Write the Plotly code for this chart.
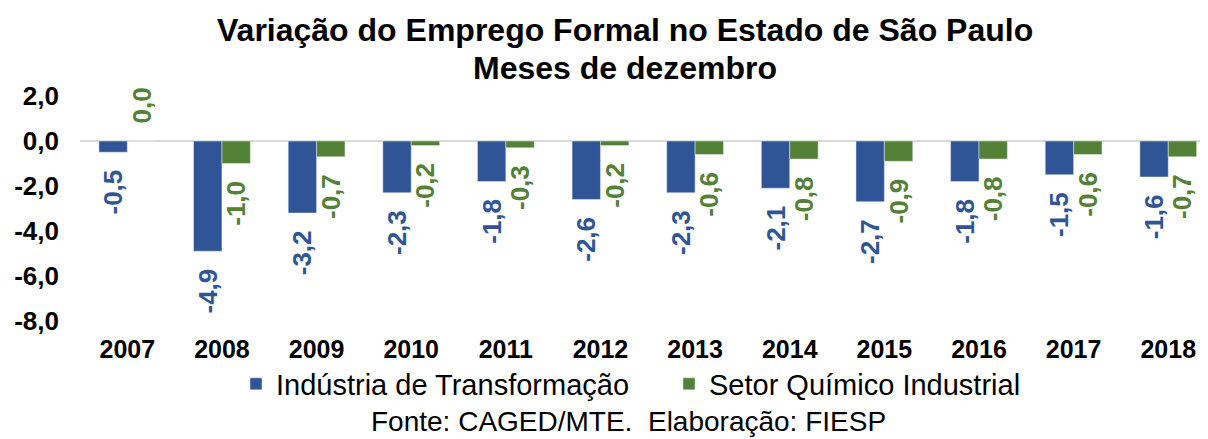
import plotly.graph_objects as go

anos = ["2007", "2008", "2009", "2010", "2011", "2012",
        "2013", "2014", "2015", "2016", "2017", "2018"]
industria = [-0.5, -4.9, -3.2, -2.3, -1.8, -2.6, -2.3, -2.1, -2.7, -1.8, -1.5, -1.6]
quimico = [0.0, -1.0, -0.7, -0.2, -0.3, -0.2, -0.6, -0.8, -0.9, -0.8, -0.6, -0.7]
y_ticks = [2, 0, -2, -4, -6, -8]

AZUL = "#2F5597"
VERDE = "#538135"
FONTE = "Liberation Sans, Arial, sans-serif"
ESP = "\u00a0\u00a0"  # afastamento do rótulo em relação à barra


def rotulo(v):
    return "<b>" + f"{v:.1f}".replace(".", ",") + "</b>"


def rotulo_barra(v):
    # texto girado -90: o fim do texto fica junto da barra negativa
    return ESP + rotulo(v) if v >= 0 else rotulo(v) + ESP


fig = go.Figure()
for nome, valores, cor in [("Indústria de Transformação", industria, AZUL),
                           ("Setor Químico Industrial", quimico, VERDE)]:
    fig.add_trace(go.Bar(
        x=anos, y=valores, name=nome, marker_color=cor,
        text=[rotulo_barra(v) for v in valores], textposition="outside",
        textangle=-90, constraintext="none",
        textfont=dict(color=cor, size=26, family=FONTE),
        cliponaxis=False, hoverinfo="skip",
    ))

# a página tem 8px de margem no body: figura 1200x431
h = 225


def py(pix):
    return (321 - pix) / h


def px_(pix):
    return (pix - 80) / 1128


fig.update_layout(
    width=1200, height=431,
    margin=dict(l=72, r=0, t=88, b=118),
    plot_bgcolor="white", paper_bgcolor="white",
    barmode="group", bargap=0.4, bargroupgap=0,
    font=dict(family=FONTE, color="black"),
    showlegend=True,
    legend=dict(orientation="h", x=px_(236), xanchor="left", y=py(384), yanchor="middle",
                font=dict(size=29), itemwidth=30, traceorder="normal",
                entrywidth=388, entrywidthmode="pixels"),
    annotations=[
        dict(text="<b>Variação do Emprego Formal no Estado de São Paulo</b>",
             x=px_(625), y=py(30), xref="paper", yref="paper", showarrow=False,
             xanchor="center", yanchor="middle", font=dict(size=32)),
        dict(text="<b>Meses de dezembro</b>",
             x=px_(625), y=py(68), xref="paper", yref="paper", showarrow=False,
             xanchor="center", yanchor="middle", font=dict(size=32)),
        dict(text="Fonte: CAGED/MTE.  Elaboração: FIESP",
             x=px_(628), y=py(421), xref="paper", yref="paper", showarrow=False,
             xanchor="center", yanchor="middle", font=dict(size=28)),
    ],
)

fig.update_xaxes(showline=False, showgrid=False, ticks="",
                 tickfont=dict(size=25, family=FONTE), tickprefix="<b>", ticksuffix="</b>",
                 ticklabelstandoff=11, range=[-0.5, 11.42])
fig.update_yaxes(range=[-8, 2], tickvals=y_ticks,
                 ticktext=[rotulo(v) for v in y_ticks], showgrid=False,
                 zeroline=True, zerolinecolor="#D9D9D9", zerolinewidth=2,
                 tickfont=dict(size=26, family=FONTE), ticks="", ticklabelstandoff=20)

fig.write_html("out.html")
